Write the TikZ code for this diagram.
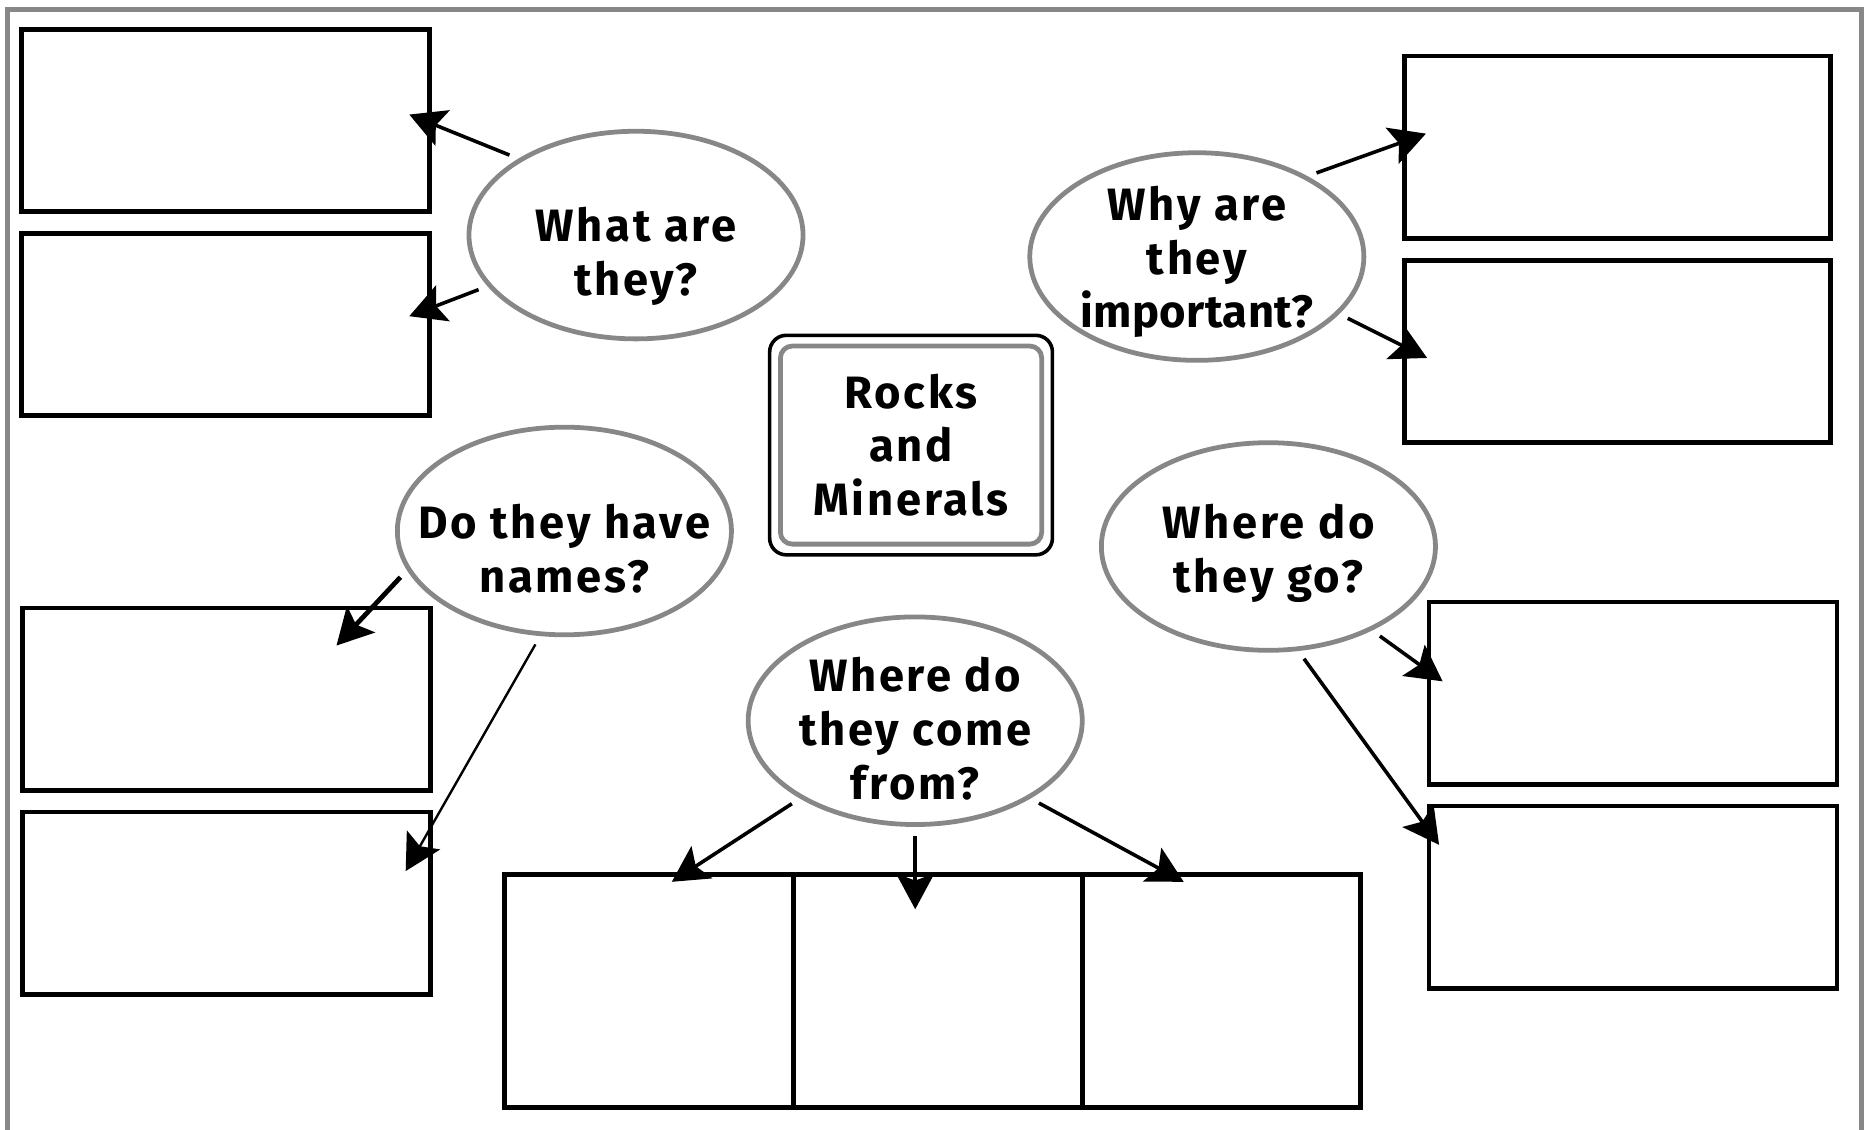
\documentclass[tikz,border=0pt]{standalone}
\usepackage{fontspec}
\setmainfont{Fira Sans}[LetterSpace=6]
\usetikzlibrary{arrows.meta,fit,positioning,shapes.geometric}
\definecolor{Rim}{HTML}{878787}
\tikzset{
  pointer/.style={-{Stealth[length=15pt,width=16pt,inset=3pt]},line width=1.5pt,shorten <=4pt},
  thinpointer/.style={pointer,line width=1pt},
  answerbox/.style={draw,line width=2pt,outer sep=0pt,minimum width=171pt,minimum height=76.5pt,inner sep=0pt},
  question/.style={ellipse,draw=Rim,line width=2pt,minimum width=140pt,minimum height=87pt,inner sep=-12pt,
    align=center,font=\fontsize{19}{22.5}\selectfont\bfseries},
}
\newcommand{\lift}[1]{\rule{0pt}{#1}}

\begin{document}
\begin{tikzpicture}[x=0.5pt,y=-0.5pt,node distance=9pt]
  \useasboundingbox (0,0) rectangle (1568,947);
  \draw[Rim,line width=2pt] (6,947) -- (6,8) -- (1560,8) -- (1560,947);

  % topic in the middle
  \node[draw=Rim,line width=2pt,rounded corners=5pt,minimum width=109.5pt,minimum height=83pt,
    align=center,font=\fontsize{19}{22.5}\selectfont\bfseries] (core) at (763.5,373) {Rocks\\and\\Minerals};
  \node[fit=(core),inner sep=3.5pt,draw,line width=1.5pt,rounded corners=7pt] (corerim) {};

  % boxes to fill in
  \node[answerbox] (what1) at (189,101) {};
  \node[answerbox,below=of what1] (what2) {};
  \node[answerbox] (names1) at (190,586) {};
  \node[answerbox,below=of names1] (names2) {};
  \node[answerbox,minimum width=178.5pt] (why1) at (1355.5,123.5) {};
  \node[answerbox,minimum width=178.5pt,below=of why1] (why2) {};
  \node[answerbox] (go1) at (1368.5,581) {};
  \node[answerbox,below=of go1] (go2) {};
  \node[answerbox,minimum width=121pt,minimum height=97.5pt] (from1) at (544,830.5) {};
  \node[answerbox,minimum width=121pt,minimum height=97.5pt,right=0pt of from1] (from2) {};
  \node[answerbox,minimum width=116.5pt,minimum height=97.5pt,right=0pt of from2] (from3) {};

  % questions
  \node[question] (what) at (533,197) {\lift{32pt}What are\\they?};
  \node[question] (why) at (1003,215) {\lift{19pt}Why are\\they\\{\addfontfeature{LetterSpace=1}important?}};
  \node[question] (names) at (473,445) {\lift{29pt}Do they have\\names?};
  \node[question] (go) at (1063,458) {\lift{20pt}Where do\\they go?};
  \node[question] (from) at (767,604) {\lift{21pt}Where do\\they come\\from?};

  % arrow tips
  \coordinate (whatA) at (343,96);
  \coordinate (whatB) at (343,265);
  \coordinate (whyA) at (1195,112);
  \coordinate (whyB) at (1196,300);
  \coordinate (namesA) at (282,541);
  \coordinate (namesB) at (340,730);
  \coordinate (goA) at (1209,571);
  \coordinate (goB) at (1206,708);
  \coordinate (fromA) at (563,739);
  \coordinate (fromB) at (767,762);
  \coordinate (fromC) at (992,739);

  \draw[pointer] (what.147) -- (whatA);
  \draw[pointer] (what.199) -- (whatB);
  \draw[pointer] (why.36) -- (whyA);
  \draw[pointer] (why.-22) -- (whyB);
  \draw[pointer,line width=2pt] (names.194) -- (namesA);
  \draw[thinpointer] (names.257) -- (namesB);
  \draw[pointer] (go.-39) -- (goA);
  \draw[pointer] (go.-74) -- (goB);
  \draw[pointer] (from.214) -- (fromA);
  \draw[pointer] (from.270) -- (fromB);
  \draw[pointer] (from.-34) -- (fromC);
\end{tikzpicture}
\end{document}
